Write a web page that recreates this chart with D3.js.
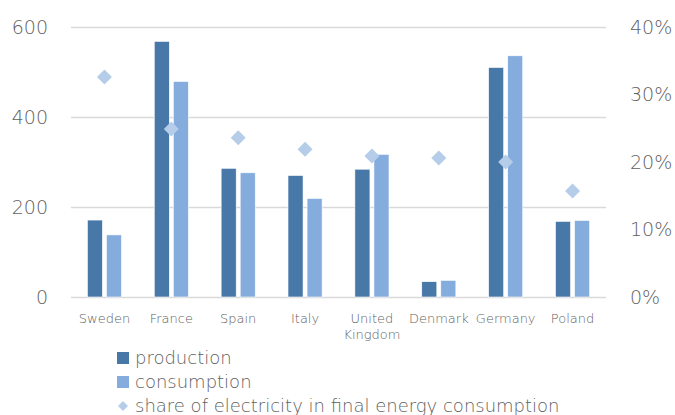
<!DOCTYPE html>
<html><head><meta charset="utf-8">
<script src="https://cdn.jsdelivr.net/npm/d3@7"></script>
<style>body{margin:0;background:#fff}svg{display:block}</style>
</head><body>
<svg id="chart" width="675" height="415"></svg>
<script>
const countries = ["Sweden","France","Spain","Italy","United Kingdom","Denmark","Germany","Poland"];
const production = [171,568,286,270,284,34,510,168];
const consumption = [138,479,276,219,317,37,536,170];
const shareElectricity = [0.326,0.249,0.236,0.219,0.209,0.206,0.200,0.157];
const leftTicks = [0,200,400,600];
const rightTicks = [0,0.1,0.2,0.3,0.4];
const seriesNames = ["production","consumption","share of electricity in final energy consumption"];
const colors = {production:"#4878a8", consumption:"#84acdc", share:"#b5cde9"};

const svg = d3.select("#chart");
const font = "'DejaVu Sans', sans-serif";
const weight = 300;
const textColor = "#5f5f5f";
const L = 71, R = 606, T = 27, B = 297;

const x = d3.scaleBand().domain(countries).range([L, R]).padding(0);
const y = d3.scaleLinear().domain([0,600]).range([B, T]);
const y2 = d3.scaleLinear().domain([0,0.4]).range([B, T]);
const bw = x.bandwidth();
const x1 = d3.scaleBand().domain(["production","consumption"]).range([bw*0.245, bw*0.755]).paddingInner(0.21);

// left axis with gridlines
const gl = svg.append("g").attr("transform", `translate(${L},0)`)
  .call(d3.axisLeft(y).tickValues(leftTicks).tickSize(-(R-L)).tickPadding(23).tickFormat(d3.format("d")));
gl.select(".domain").remove();
gl.selectAll("line").attr("stroke","#d9d9d9").attr("stroke-width",1.5);
gl.selectAll("text").attr("fill",textColor).style("font-family",font).style("font-weight",weight).style("font-size","19px");

// right axis
const gr = svg.append("g").attr("transform", `translate(${R},0)`)
  .call(d3.axisRight(y2).tickValues(rightTicks).tickSize(0).tickPadding(24).tickFormat(d3.format(".0%")));
gr.select(".domain").remove();
gr.selectAll("text").attr("fill",textColor).style("font-family",font).style("font-weight",weight).style("font-size","19px");

// bars
const groups = svg.append("g").selectAll("g").data(countries).join("g")
  .attr("transform", d => `translate(${x(d)},0)`);
groups.append("rect")
  .attr("x", x1("production")).attr("width", x1.bandwidth())
  .attr("y", (d,i) => y(production[i])).attr("height", (d,i) => y(0)-y(production[i]))
  .attr("fill", colors.production).attr("stroke","#fff").attr("stroke-width",0.6);
groups.append("rect")
  .attr("x", x1("consumption")).attr("width", x1.bandwidth())
  .attr("y", (d,i) => y(consumption[i])).attr("height", (d,i) => y(0)-y(consumption[i]))
  .attr("fill", colors.consumption).attr("stroke","#fff").attr("stroke-width",0.6);

// diamonds
const diamond = d3.symbol(d3.symbolSquare, 112);
svg.append("g").selectAll("path").data(countries).join("path")
  .attr("d", diamond)
  .attr("transform", (d,i) => `translate(${x(d)+bw/2},${y2(shareElectricity[i])}) rotate(45)`)
  .attr("fill", colors.share);

// x axis labels
const gx = svg.append("g").attr("transform", `translate(0,${B})`)
  .call(d3.axisBottom(x).tickSize(0).tickPadding(0));
gx.select(".domain").remove();
gx.selectAll("text").attr("fill",textColor).style("font-family",font).style("font-weight",weight).style("font-size","13px")
  .attr("y", 26).attr("dy", null)
  .each(function(d){
    const words = d.split(" ");
    const t = d3.select(this).text(null);
    words.forEach((w,k) => t.append("tspan").attr("x",0).attr("dy", k===0 ? 0 : 16).text(w));
  });

// legend
const legend = svg.append("g").style("font-family",font).style("font-weight",weight).style("font-size","18px");
seriesNames.forEach((name,i) => {
  const yb = 364 + i*24;
  if (i < 2) {
    legend.append("rect").attr("x",117).attr("y",yb-12).attr("width",12).attr("height",12)
      .attr("fill", i===0 ? colors.production : colors.consumption);
  } else {
    legend.append("path").attr("d", d3.symbol(d3.symbolSquare, 50))
      .attr("transform", `translate(123,${yb-6}) rotate(45)`).attr("fill", colors.share);
  }
  legend.append("text").attr("x",135).attr("y",yb).attr("fill",textColor).text(name);
});
</script>
</body></html>
